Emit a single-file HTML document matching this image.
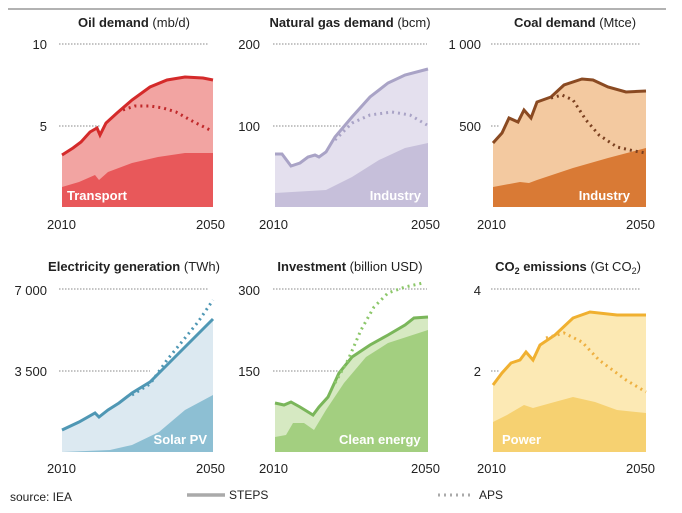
<!DOCTYPE html>
<html><head><meta charset="utf-8"><style>
body{margin:0;background:#fff}
svg{display:block;font-family:"Liberation Sans",sans-serif}
.t{font-size:13px;fill:#222;text-anchor:middle}
.tb{font-weight:bold}
.tk{font-size:13px;fill:#222;text-anchor:end}
.yr{font-size:13px;fill:#222}
.g{stroke:#888;stroke-width:1;stroke-dasharray:1.5 1.5}
.lab{font-size:13px;font-weight:bold;fill:#fff}
</style></head><body>
<svg width="682" height="513" viewBox="0 0 682 513">
<line x1="8" y1="9" x2="666" y2="9" stroke="#999" stroke-width="1.5"/>

<!-- P1 Oil -->
<text class="t" x="134" y="27"><tspan class="tb">Oil demand</tspan> (mb/d)</text>
<text class="tk" x="47" y="49">10</text><text class="tk" x="47" y="131">5</text>
<polygon fill="#f2a4a2" points="62,155 73,148 81,142 90,132 97,128 100,135 106,123 117,113 132,100 150,87 167,80 185,77 203,78 213,80 213,207 62,207"/>
<polygon fill="#e8585a" points="62,187 79,182 95,175 99,180 108,172 132,163 158,157 185,153 213,153 213,207 62,207"/>
<line class="g" x1="59" y1="44" x2="209" y2="44"/><line class="g" x1="59" y1="126" x2="100" y2="126"/>
<polyline fill="none" stroke="#d42a2a" stroke-width="3" points="62,155 73,148 81,142 90,132 97,128 100,135 106,123 117,113 132,100 150,87 167,80 185,77 203,78 213,80"/>
<polyline fill="none" stroke="#c0282a" stroke-width="3" stroke-dasharray="2 4" points="123,110 135,106 150,106 163,108 176,112 194,122 212,131"/>
<text class="lab" x="67" y="200">Transport</text>
<text class="yr" x="47" y="229">2010</text><text class="yr" x="196" y="229">2050</text>

<!-- P2 Gas -->
<text class="t" x="350" y="27"><tspan class="tb">Natural gas demand</tspan> (bcm)</text>
<text class="tk" x="260" y="49">200</text><text class="tk" x="260" y="131">100</text>
<polygon fill="#e4e0ee" points="275,154 282,154 291,166 300,163 308,157 315,155 319,157 326,152 335,137 352,117 370,97 388,83 405,75 428,69 428,207 275,207"/>
<polygon fill="#c6bfda" points="275,193 326,190 352,177 379,160 405,148 428,143 428,207 275,207"/>
<line class="g" x1="273" y1="44" x2="427" y2="44"/><line class="g" x1="273" y1="126" x2="342" y2="126"/>
<polyline fill="none" stroke="#a9a3c6" stroke-width="3" points="275,154 282,154 291,166 300,163 308,157 315,155 319,157 326,152 335,137 352,117 370,97 388,83 405,75 428,69"/>
<polyline fill="none" stroke="#a9a3c6" stroke-width="3" stroke-dasharray="2 4" points="335,140 352,123 370,115 392,112 410,115 427,125"/>
<text class="lab" x="421" y="200" text-anchor="end">Industry</text>
<text class="yr" x="259" y="229">2010</text><text class="yr" x="411" y="229">2050</text>

<!-- P3 Coal -->
<text class="t" x="575" y="27"><tspan class="tb">Coal demand</tspan> (Mtce)</text>
<text class="tk" x="481" y="49">1 000</text><text class="tk" x="481" y="131">500</text>
<polygon fill="#f3c9a0" points="493,143 502,133 509,118 518,122 524,110 531,118 537,102 551,97 564,85 582,79 593,80 608,87 626,92 646,91 646,207 493,207"/>
<polygon fill="#d97a35" points="493,187 520,182 529,183 537,180 573,168 608,158 646,148 646,207 493,207"/>
<line class="g" x1="491" y1="44" x2="641" y2="44"/><line class="g" x1="491" y1="126" x2="499" y2="126"/>
<polyline fill="none" stroke="#8a4a22" stroke-width="3" points="493,143 502,133 509,118 518,122 524,110 531,118 537,102 551,97 564,85 582,79 593,80 608,87 626,92 646,91"/>
<polyline fill="none" stroke="#7a4020" stroke-width="3" stroke-dasharray="2 4" points="551,98 562,95 573,100 586,120 599,135 617,147 634,151 646,153"/>
<text class="lab" x="630" y="200" text-anchor="end">Industry</text>
<text class="yr" x="477" y="229">2010</text><text class="yr" x="626" y="229">2050</text>

<!-- P4 Electricity -->
<text class="t" x="134" y="271"><tspan class="tb">Electricity generation</tspan> (TWh)</text>
<text class="tk" x="47" y="295">7 000</text><text class="tk" x="47" y="376">3 500</text>
<polygon fill="#dce9f1" points="62,430 79,422 95,413 99,417 108,410 119,403 132,393 150,382 167,365 189,343 213,319 213,452 62,452"/>
<polygon fill="#8dbfd3" points="62,452 110,450 132,445 159,432 185,410 213,395 213,452"/>
<line class="g" x1="59" y1="289" x2="209" y2="289"/><line class="g" x1="59" y1="371" x2="150" y2="371"/>
<polyline fill="none" stroke="#4f97b4" stroke-width="3" points="62,430 79,422 95,413 99,417 108,410 119,403 132,393 150,382 167,365 189,343 213,319"/>
<polyline fill="none" stroke="#4f97b4" stroke-width="3" stroke-dasharray="2 4" points="132,395 150,384 167,360 185,338 198,322 213,300"/>
<text class="lab" x="207" y="444" text-anchor="end">Solar PV</text>
<text class="yr" x="47" y="473">2010</text><text class="yr" x="196" y="473">2050</text>

<!-- P5 Investment -->
<text class="t" x="350" y="271"><tspan class="tb">Investment</tspan> (billion USD)</text>
<text class="tk" x="260" y="295">300</text><text class="tk" x="260" y="376">150</text>
<polygon fill="#d6e9c2" points="275,403 284,405 291,402 300,407 313,415 319,407 328,397 339,373 352,357 370,345 388,335 405,325 414,318 428,317 428,452 275,452"/>
<polygon fill="#a3cf80" points="275,437 286,435 293,423 304,423 314,430 326,410 344,383 366,357 388,343 428,330 428,452 275,452"/>
<line class="g" x1="273" y1="289" x2="427" y2="289"/><line class="g" x1="273" y1="371" x2="340" y2="371"/>
<polyline fill="none" stroke="#7ab65a" stroke-width="3" points="275,403 284,405 291,402 300,407 313,415 319,407 328,397 339,373 352,357 370,345 388,335 405,325 414,318 428,317"/>
<polyline fill="none" stroke="#8cc76a" stroke-width="3" stroke-dasharray="2 4" points="335,383 348,360 361,330 374,307 388,293 405,287 423,283"/>
<text class="lab" x="339" y="444">Clean energy</text>
<text class="yr" x="259" y="473">2010</text><text class="yr" x="411" y="473">2050</text>

<!-- P6 CO2 -->
<text class="t" x="568" y="271"><tspan class="tb">CO<tspan font-size="9" dy="3">2</tspan><tspan dy="-3"> emissions</tspan></tspan> (Gt CO<tspan font-size="9" dy="3">2</tspan><tspan dy="-3">)</tspan></text>
<text class="tk" x="481" y="295">4</text><text class="tk" x="481" y="376">2</text>
<polygon fill="#fce9b4" points="493,385 502,373 511,363 520,360 526,352 533,360 540,345 555,335 573,318 590,312 617,315 646,315 646,452 493,452"/>
<polygon fill="#f6d171" points="493,422 507,415 524,405 533,408 551,403 573,397 595,402 617,410 646,413 646,452 493,452"/>
<line class="g" x1="491" y1="289" x2="641" y2="289"/><line class="g" x1="491" y1="371" x2="499" y2="371"/>
<polyline fill="none" stroke="#f0b030" stroke-width="3" points="493,385 502,373 511,363 520,360 526,352 533,360 540,345 555,335 573,318 590,312 617,315 646,315"/>
<polyline fill="none" stroke="#eeb040" stroke-width="3" stroke-dasharray="2 4" points="546,338 564,333 582,342 599,360 626,380 646,392"/>
<text class="lab" x="502" y="444">Power</text>
<text class="yr" x="477" y="473">2010</text><text class="yr" x="626" y="473">2050</text>

<!-- legend -->
<text x="10" y="501" font-size="12" fill="#222">source: IEA</text>
<line x1="187" y1="495" x2="225" y2="495" stroke="#aaa" stroke-width="3.5"/>
<text x="229" y="499" font-size="12" fill="#222">STEPS</text>
<line x1="438" y1="495" x2="474" y2="495" stroke="#aaa" stroke-width="3" stroke-dasharray="2 4"/>
<text x="479" y="499" font-size="12" fill="#222">APS</text>
</svg>
</body></html>
